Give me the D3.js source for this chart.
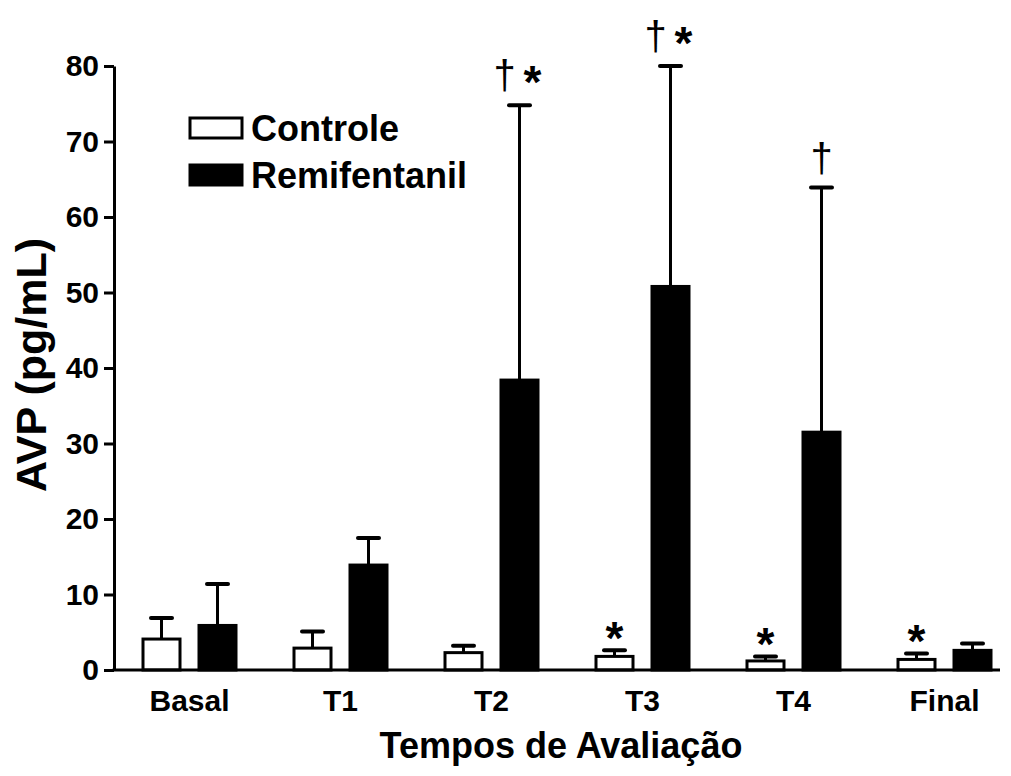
<!DOCTYPE html>
<html>
<head>
<meta charset="utf-8">
<script src="https://cdn.jsdelivr.net/npm/d3@7"></script>
<style>
  html, body { margin: 0; padding: 0; background: #fff; }
  svg { display: block; font-family: "Liberation Sans", Arial, sans-serif; }
</style>
</head>
<body>
<svg id="chart" width="1011" height="776"></svg>
<script>
// Time points and groups
const categories = ["Basal", "T1", "T2", "T3", "T4", "Final"];
const seriesNames = ["Controle", "Remifentanil"];

// Mean AVP (pg/mL) per time point
const controleMean = [4.1, 2.9, 2.3, 1.8, 1.2, 1.4];
const remiMean = [5.9, 13.9, 38.4, 50.8, 31.5, 2.6];
// Upper end of the error bars (mean + SD)
const controleUpper = [6.9, 5.1, 3.2, 2.6, 1.8, 2.2];
const remiUpper = [11.4, 17.5, 74.8, 80.0, 63.9, 3.5];

const yTicks = [0, 10, 20, 30, 40, 50, 60, 70, 80];

// Significance marks: category, series index, label
const markCats = ["T2", "T3", "T4", "T3", "T4", "Final"];
const markSeries = [1, 1, 1, 0, 0, 0];
const markLabels = ["†*", "†*", "†", "*", "*", "*"];

const svg = d3.select("#chart");

const x0 = d3.scaleBand().domain(categories).range([114, 1020]).padding(0);
const x1 = d3.scaleBand().domain(seriesNames).range([-48, 48]).paddingInner(2 / 7).paddingOuter(0);
const y = d3.scaleLinear().domain([0, 80]).range([670, 66]);

const fills = ["#ffffff", "#000000"];
const means = [controleMean, remiMean];
const uppers = [controleUpper, remiUpper];

const rows = [];
seriesNames.forEach((s, si) => {
  categories.forEach((c, ci) => {
    rows.push({ cat: c, series: s, si, mean: means[si][ci], upper: uppers[si][ci] });
  });
});

const cx = d => x0(d.cat) + x0.bandwidth() / 2 + x1(d.series) + x1.bandwidth() / 2;

// Error bars (upper only)
const err = svg.append("g");
err.selectAll("line.stem").data(rows).join("line")
  .attr("x1", cx).attr("x2", cx)
  .attr("y1", d => y(d.mean)).attr("y2", d => y(d.upper))
  .attr("stroke", "#000").attr("stroke-width", 3);
err.selectAll("line.cap").data(rows).join("line")
  .attr("x1", d => cx(d) - 10.5).attr("x2", d => cx(d) + 10.5)
  .attr("y1", d => y(d.upper)).attr("y2", d => y(d.upper))
  .attr("stroke", "#000").attr("stroke-width", 4).attr("stroke-linecap", "round");

// Bars
svg.append("g").selectAll("rect").data(rows).join("rect")
  .attr("x", d => x0(d.cat) + x0.bandwidth() / 2 + x1(d.series) + 1.5)
  .attr("width", x1.bandwidth() - 3)
  .attr("y", d => y(d.mean))
  .attr("height", d => y(0) - y(d.mean))
  .attr("fill", d => fills[d.si])
  .attr("stroke", "#000").attr("stroke-width", 3);

// Y axis
const yAxis = d3.axisLeft(y).tickValues(yTicks).tickSize(10).tickSizeOuter(0).tickPadding(5);
const gy = svg.append("g").attr("transform", "translate(114,0)").call(yAxis);
gy.select(".domain").attr("stroke-width", 3);
gy.selectAll(".tick line").attr("stroke-width", 3);
gy.selectAll(".tick text")
  .attr("font-size", 30).attr("font-weight", "bold").attr("fill", "#000")
  .attr("font-family", "'Liberation Sans', Arial, sans-serif");

// X axis
const xAxis = d3.axisBottom(x0).tickSize(0).tickPadding(20);
const gx = svg.append("g").attr("transform", `translate(0,${y(0)})`).call(xAxis);
gx.select(".domain").remove();
gx.selectAll(".tick text")
  .attr("font-size", 30).attr("font-weight", "bold").attr("fill", "#000")
  .attr("font-family", "'Liberation Sans', Arial, sans-serif");
svg.append("line")
  .attr("x1", 112.5).attr("x2", 1000)
  .attr("y1", y(0)).attr("y2", y(0))
  .attr("stroke", "#000").attr("stroke-width", 3);

// Axis titles
svg.append("text")
  .attr("x", 561).attr("y", 758)
  .attr("text-anchor", "middle")
  .attr("font-size", 36).attr("font-weight", "bold")
  .text("Tempos de Avaliação");

svg.append("text")
  .attr("transform", "translate(46,365) rotate(-90)")
  .attr("text-anchor", "middle")
  .attr("font-size", 43).attr("font-weight", "bold")
  .text("AVP (pg/mL)");

// Legend
const legend = svg.append("g");
seriesNames.forEach((s, i) => {
  const ly = 118 + i * 47;
  legend.append("rect")
    .attr("x", 190).attr("y", ly).attr("width", 52).attr("height", 20)
    .attr("fill", fills[i]).attr("stroke", "#000").attr("stroke-width", 3);
  legend.append("text")
    .attr("x", 251).attr("y", ly + 23)
    .attr("font-size", 36).attr("font-weight", "bold")
    .text(s);
});

// Significance marks above the error bars
const marks = markCats.map((c, i) => {
  const si = markSeries[i];
  const ci = categories.indexOf(c);
  return { cat: c, series: seriesNames[si], si, upper: uppers[si][ci], label: markLabels[i] };
});
const mg = svg.append("g");
marks.forEach(m => {
  const xc = cx(m);
  const yTop = y(m.upper);
  const hasDagger = m.label.includes("†");
  const hasStar = m.label.includes("*");
  const pair = hasDagger && hasStar;
  if (hasDagger) {
    mg.append("text")
      .attr("x", pair ? xc - 15 : xc).attr("y", yTop - 16)
      .attr("text-anchor", "middle")
      .attr("font-size", 40).attr("font-weight", "normal")
      .text("†");
  }
  if (hasStar) {
    mg.append("text")
      .attr("x", pair ? xc + 13 : xc).attr("y", pair ? yTop - 7 : yTop + 4)
      .attr("text-anchor", "middle")
      .attr("font-size", 46).attr("font-weight", "bold")
      .text("*");
  }
});
</script>
</body>
</html>
